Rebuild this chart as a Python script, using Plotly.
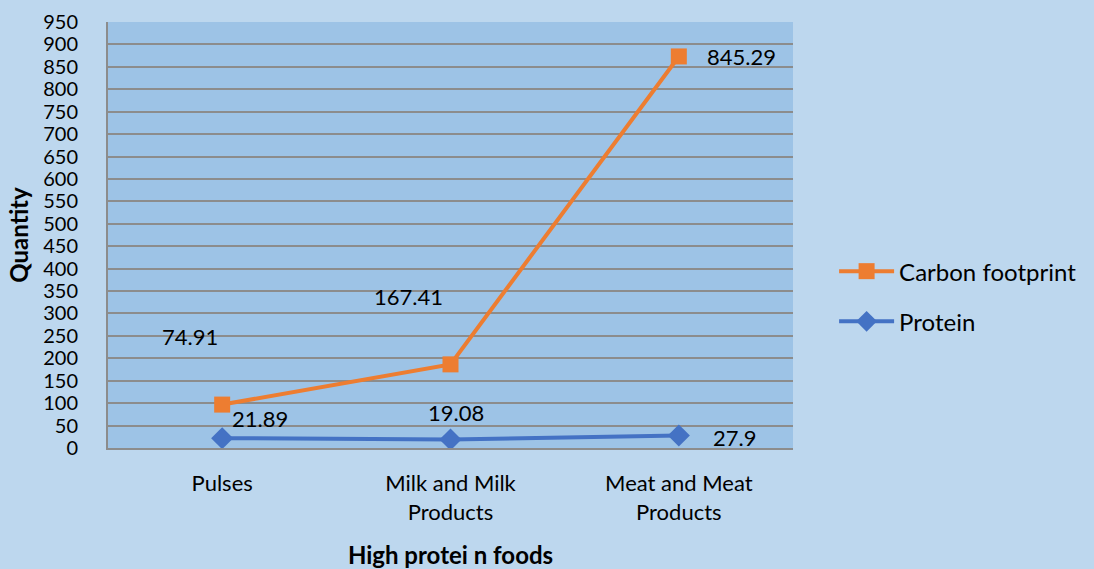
import plotly.graph_objects as go

categories = ["Pulses", "Milk and Milk<br>Products", "Meat and Meat<br>Products"]
protein = [21.89, 19.08, 27.9]
carbon = [74.91, 167.41, 845.29]
y_ticks = list(range(0, 951, 50))

carbon_stacked = [p + c for p, c in zip(protein, carbon)]
xs = [0, 1, 2]

FONT = "Lato"
fig = go.Figure()
fig.add_trace(go.Scatter(
    x=xs, y=carbon_stacked, name="Carbon footprint", mode="lines+markers", legendgroup="c",
    line=dict(color="#ED7D31", width=4),
    marker=dict(symbol="square", size=16, color="#ED7D31"),
))
fig.add_trace(go.Scatter(
    x=xs, y=protein, name="Protein", mode="lines+markers", legendgroup="p",
    line=dict(color="#4472C4", width=4),
    marker=dict(symbol="diamond", size=17, color="#4472C4"),
))

# data labels (manually placed as in the original)
carbon_shift = [(-32, 68), (-42, 68), (63, 0)]
protein_shift = [(38, 20), (5, 27), (56, -2)]
for i in range(3):
    fig.add_annotation(x=xs[i], y=carbon_stacked[i], xref="x", yref="y",
                       text=f"{carbon[i]:g}", showarrow=False,
                       xshift=carbon_shift[i][0], yshift=carbon_shift[i][1],
                       font=dict(family=FONT, size=22, color="black"))
    fig.add_annotation(x=xs[i], y=protein[i], xref="x", yref="y",
                       text=f"{protein[i]:g}", showarrow=False,
                       xshift=protein_shift[i][0], yshift=protein_shift[i][1],
                       font=dict(family=FONT, size=22, color="black"))

fig.update_layout(
    width=1094, height=569,
    margin=dict(l=108, r=301, t=22, b=121),
    paper_bgcolor="#BDD7EE", plot_bgcolor="#9DC3E6",
    font=dict(family=FONT, color="black", size=20),
    showlegend=True,
    legend=dict(x=1.06, y=0.467, xanchor="left", yanchor="top",
                traceorder="grouped", bgcolor="rgba(0,0,0,0)",
                font=dict(family=FONT, size=24), tracegroupgap=16,
                itemwidth=55),
    xaxis=dict(
        range=[-0.5, 2.5], tickmode="array", tickvals=xs, ticktext=categories,
        showgrid=False, zeroline=False, showline=True, linecolor="#8C8C8C",
        linewidth=2, ticks="", ticklabelstandoff=15, automargin=False,
        tickfont=dict(family=FONT, size=22),
        title=dict(text="<b>High protei n foods</b>", font=dict(family=FONT, size=24), standoff=24),
    ),
    yaxis=dict(
        range=[0, 950], tickmode="array", tickvals=y_ticks,
        showgrid=True, gridcolor="#8C8C8C", gridwidth=2, zeroline=False,
        showline=True, linecolor="#8C8C8C", linewidth=2, automargin=False,
        ticks="", ticklabelstandoff=24,
        tickfont=dict(family=FONT, size=20),
        title=dict(text="<b>Quantity</b>", font=dict(family=FONT, size=24), standoff=8),
    ),
)
fig.write_html("out.html")
